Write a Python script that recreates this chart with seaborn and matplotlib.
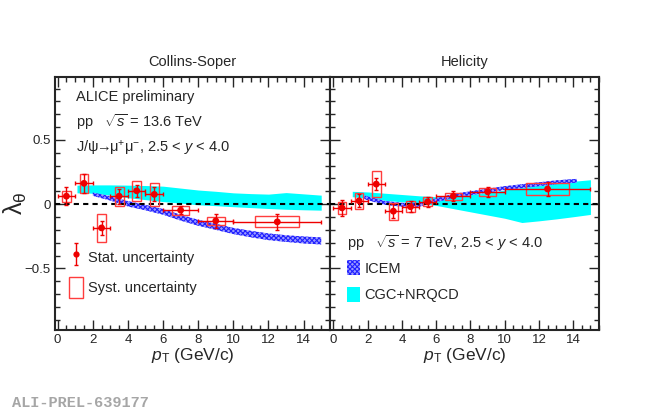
import numpy as np
import pandas as pd
import matplotlib
matplotlib.use("Agg")
import matplotlib.pyplot as plt
import seaborn as sns
from matplotlib.patches import Rectangle, Patch
from matplotlib.legend_handler import HandlerErrorbar
from matplotlib.container import ErrorbarContainer
from matplotlib.ticker import MultipleLocator, FuncFormatter

# pT bins (GeV/c)
pt_lo = [0, 1, 2, 3, 4, 5, 6, 8, 10]
pt_hi = [1, 2, 3, 4, 5, 6, 8, 10, 15]

# lambda_theta, Collins-Soper frame (pp 13.6 TeV)
lam_cs = [0.062, 0.162, -0.185, 0.062, 0.104, 0.076, -0.047, -0.13, -0.138]
stat_cs = [0.07, 0.076, 0.055, 0.058, 0.045, 0.055, 0.033, 0.056, 0.06]
syst_cs = [0.043, 0.075, 0.108, 0.075, 0.078, 0.09, 0.035, 0.03, 0.042]

# lambda_theta, Helicity frame
lam_hx = [-0.029, 0.026, 0.156, -0.055, -0.02, 0.018, 0.062, 0.096, 0.118]
stat_hx = [0.06, 0.05, 0.045, 0.055, 0.045, 0.04, 0.037, 0.04, 0.052]
syst_hx = [0.045, 0.06, 0.1, 0.065, 0.045, 0.035, 0.027, 0.032, 0.045]

# CGC+NRQCD model (pp 7 TeV)
cgc_pt = [1.1, 2, 3, 4, 5, 6, 7, 8, 9, 10, 11, 12, 13, 14, 15]
cgc_cs_hi = [0.148, 0.15, 0.15, 0.148, 0.145, 0.14, 0.125, 0.11, 0.10, 0.088, 0.082, 0.078, 0.09, 0.08, 0.07]
cgc_cs_lo = [0.088, 0.085, 0.07, 0.05, 0.035, 0.02, 0.008, -0.005, -0.012, -0.02, -0.027, -0.034, -0.04, -0.044, -0.047]
cgc_hx_hi = [0.10, 0.095, 0.085, 0.075, 0.065, 0.058, 0.062, 0.075, 0.09, 0.11, 0.13, 0.15, 0.165, 0.178, 0.19]
cgc_hx_lo = [0.058, 0.045, 0.03, 0.018, 0.006, -0.01, -0.035, -0.06, -0.085, -0.11, -0.143, -0.13, -0.115, -0.098, -0.08]

# ICEM model (pp 7 TeV)
icem_cs_pt = [2.0, 3, 4, 5, 6, 7, 8, 9, 10, 11, 12, 13, 14, 15]
icem_cs_hi = [0.09, 0.062, 0.024, -0.006, -0.038, -0.083, -0.122, -0.153, -0.185, -0.208, -0.228, -0.242, -0.252, -0.259]
icem_cs_lo = [0.065, 0.028, -0.018, -0.048, -0.082, -0.128, -0.168, -0.2, -0.233, -0.258, -0.28, -0.294, -0.306, -0.314]
icem_hx_pt = [1.8, 2, 3, 4, 5, 6, 7, 8, 9, 10, 11, 12, 13, 14, 14.2]
icem_hx_hi = [0.07, 0.06, 0.025, 0.01, 0.01, 0.045, 0.08, 0.1, 0.12, 0.14, 0.155, 0.17, 0.185, 0.195, 0.197]
icem_hx_lo = [0.04, 0.03, -0.005, -0.02, -0.02, 0.015, 0.05, 0.07, 0.09, 0.11, 0.125, 0.14, 0.155, 0.165, 0.167]

RED = "#ee0000"
BOX = "#ff3d3d"
CYAN = "#00ffff"
ICEM_FACE = "#9a9aff"
ICEM_HATCH = "#2020ff"
ICEM_PAT = "xxxxxxx"

sns.set_theme(style="ticks")
plt.rcParams["font.family"] = ["Liberation Sans", "DejaVu Sans"]
plt.rcParams["mathtext.fontset"] = "custom"
plt.rcParams["mathtext.rm"] = "Liberation Sans"
plt.rcParams["mathtext.it"] = "Liberation Sans:italic"
plt.rcParams["mathtext.bf"] = "Liberation Sans:bold"
plt.rcParams["hatch.linewidth"] = 0.8

fig = plt.figure(figsize=(6.5, 4.13), dpi=100)
W, H = 650, 413
ax1 = fig.add_axes([55 / W, 1 - 330 / H, 275 / W, 253 / H])
ax2 = fig.add_axes([330 / W, 1 - 330 / H, 269 / W, 253 / H])


def draw_panel(ax, lam, stat, syst, cgc_lo, cgc_hi, icem_pt, icem_lo, icem_hi):
    lo = np.array(pt_lo, float)
    hi = np.array(pt_hi, float)
    c = (lo + hi) / 2
    df = pd.DataFrame({"pt": c, "lam": lam})

    ax.fill_between(cgc_pt, cgc_lo, cgc_hi, color=CYAN, lw=0, zorder=1)
    ax.fill_between(icem_pt, icem_lo, icem_hi, facecolor=ICEM_FACE,
                    edgecolor=ICEM_HATCH, hatch=ICEM_PAT, lw=0, zorder=2)
    ax.axhline(0, color="black", ls=(0, (2.5, 2)), lw=1.5, zorder=3)

    for ci, w, l, s in zip(c, hi - lo, lam, syst):
        ax.add_patch(Rectangle((ci - w / 4, l - s), w / 2, 2 * s, fill=False,
                               edgecolor=BOX, lw=1, zorder=4))
    ax.errorbar(c, lam, xerr=[c - lo, hi - c], yerr=stat, fmt="none",
                ecolor=RED, elinewidth=1, capsize=1.2, capthick=1, zorder=5)
    sns.scatterplot(data=df, x="pt", y="lam", ax=ax, color=RED, s=24,
                    edgecolor="none", zorder=6, legend=False)

    ax.set_ylim(-0.98, 0.99)
    ax.xaxis.set_major_locator(MultipleLocator(2))
    ax.xaxis.set_minor_locator(MultipleLocator(0.5))
    ax.yaxis.set_major_locator(MultipleLocator(0.5))
    ax.yaxis.set_minor_locator(MultipleLocator(0.1))
    ax.tick_params(which="both", direction="in", top=True, right=True,
                   width=1, labelsize=9.5, pad=3)
    ax.tick_params(which="major", length=7)
    ax.tick_params(which="minor", length=3.5)
    for sp in ax.spines.values():
        sp.set_linewidth(1.5)
    ax.set_xlabel(r"$p_{\rm T}$ (GeV/c)", fontsize=12.5)
    ax.xaxis.set_label_coords(0.5, -0.065)
    ax.set_ylabel("")


draw_panel(ax1, lam_cs, stat_cs, syst_cs, cgc_cs_lo, cgc_cs_hi,
           icem_cs_pt, icem_cs_lo, icem_cs_hi)
draw_panel(ax2, lam_hx, stat_hx, syst_hx, cgc_hx_lo, cgc_hx_hi,
           icem_hx_pt, icem_hx_lo, icem_hx_hi)

ax1.set_xlim(-0.15, 15.5)
ax2.set_xlim(-0.2, 15.5)
ax2.tick_params(labelleft=False)
ax1.yaxis.set_major_formatter(FuncFormatter(lambda v, p: ("%g" % v).replace("-", "\u2212")))

ax1.set_ylabel(r"$\mathrm{\lambda_{\theta}}$", fontsize=18)
ax1.yaxis.set_label_coords(-0.095, 0.5)

ax1.set_title("Collins-Soper", fontsize=10.5, pad=8)
ax2.set_title("Helicity", fontsize=10.5, pad=8)

# text labels
ax1.text(0.076, 0.922, "ALICE preliminary", transform=ax1.transAxes,
         fontsize=10.5, va="center")
ax1.text(0.076, 0.823, r"pp   $\sqrt{s}$ = 13.6 TeV", transform=ax1.transAxes,
         fontsize=10.5, va="center")
ax1.text(0.076, 0.719, r"J/ψ$\!\!\rightarrow\!\!$μ$^{+}$μ$^{-}$, 2.5 < $y$ < 4.0",
         transform=ax1.transAxes, fontsize=10.5, va="center")
ax2.text(0.063, 0.344, r"pp   $\sqrt{s}$ = 7 TeV, 2.5 < $y$ < 4.0",
         transform=ax2.transAxes, fontsize=10.5, va="center")

# legends
stat_h = ax1.errorbar([np.nan], [np.nan], yerr=[0.1], fmt="o", color=RED,
                      ms=4.5, mec="none", elinewidth=1, capsize=1.2,
                      label="Stat. uncertainty")
syst_h = Patch(facecolor="none", edgecolor=BOX, lw=1, label="Syst. uncertainty")
ax1.legend(handles=[stat_h, syst_h], loc="upper left",
           bbox_to_anchor=(0.05, 0.33), frameon=False, fontsize=10.5,
           handlelength=1.0, handleheight=1.8, labelspacing=0.7,
           handletextpad=0.3, borderpad=0, borderaxespad=0, numpoints=1,
           handler_map={ErrorbarContainer: HandlerErrorbar(yerr_size=0.75)})

icem_h = Patch(facecolor=ICEM_FACE, edgecolor=ICEM_HATCH, hatch=ICEM_PAT,
               lw=0, label="ICEM")
cgc_h = Patch(facecolor=CYAN, lw=0, label="CGC+NRQCD")
ax2.legend(handles=[icem_h, cgc_h], loc="upper left",
           bbox_to_anchor=(0.062, 0.275), frameon=False, fontsize=10.5,
           handlelength=0.9, handleheight=1.2, labelspacing=0.75,
           handletextpad=0.3, borderpad=0, borderaxespad=0)

fig.text(12 / W, 1 - 403 / H, "ALI-PREL-639177", family="Liberation Mono",
         weight="bold", color="#a6a6a6", fontsize=11, va="center")

fig.savefig("out.png", dpi=100)
